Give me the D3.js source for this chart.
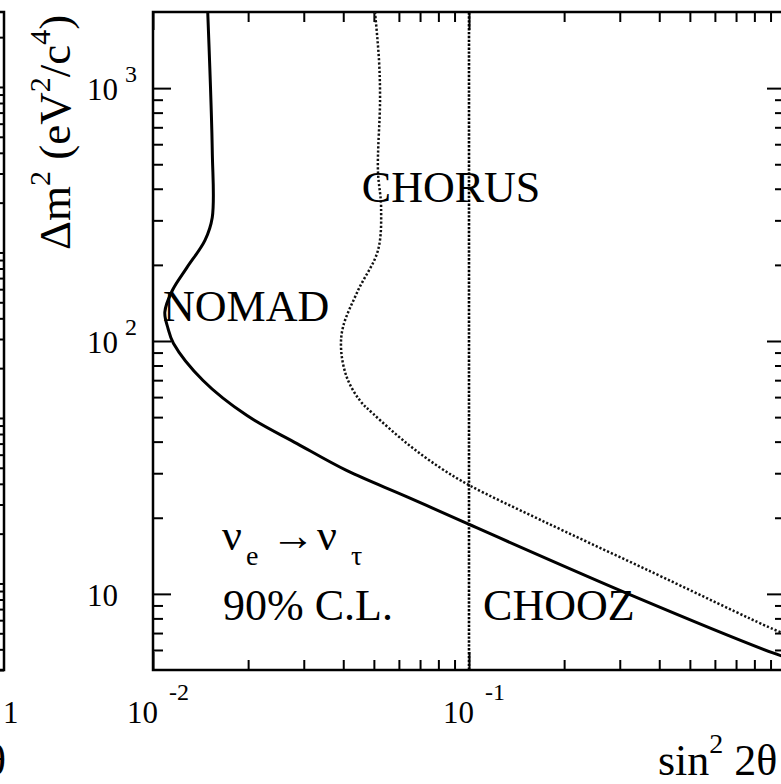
<!DOCTYPE html>
<html>
<head>
<meta charset="utf-8">
<script src="https://cdn.jsdelivr.net/npm/d3@7"></script>
<style>
  html, body { margin: 0; padding: 0; background: #fff; }
  svg { display: block; }
  text { font-family: "Liberation Serif", "Times New Roman", serif; fill: #000; }
</style>
</head>
<body>
<svg id="chart" width="781" height="784"></svg>
<script>
// Exclusion contours in the (sin^2 2θ, Δm^2) plane, ν_e → ν_τ, 90% C.L.
const nomadSin2 = [0.0149, 0.0154, 0.0154, 0.0146, 0.0128, 0.0115, 0.0109, 0.01116, 0.01160, 0.0144, 0.01984, 0.02856, 0.0411, 0.0637, 0.0993, 0.330, 0.916, 1.0];
const nomadDm2  = [2000,   568,    308,    250,    195,    158,    130,    112,     98,      69.8,   50.7,    39.3,    30.7,   24.2,   18.9,   9.82,  5.84,  5.63];

const chorusSin2 = [0.0504, 0.0519, 0.0523, 0.0515, 0.0527, 0.0515, 0.0445, 0.0399, 0.0394, 0.0411, 0.0452, 0.0497, 0.0637, 0.0809, 0.1007, 0.168, 0.366, 0.916, 1.0];
const chorusDm2  = [2000,   1291,   896,    473,    338,    228,    158,    113.1,  91.7,   71.6,   58.1,   51.6,   39.3,   31.6,   26.8,   19.64, 12.45, 7.26,  6.95];

const choozSin2 = 0.1;

const xDomain = [0.01, 1];
const yDomain = [5, 2000];
const xMajorTicks = [0.01, 0.1, 1];
const xTickExponents = ["-2", "-1", ""];
const yMajorTicks = [10, 100, 1000];
const yTickExponents = ["", "2", "3"];

// experiment names, anchored at (sin^2 2θ, Δm^2) of the text's left baseline
const labelNames = ["CHORUS", "NOMAD", "CHOOZ"];
const labelSin2  = [0.0458, 0.01076, 0.1108];
const labelDm2   = [353, 119.5, 7.89];

// ---- layout ----
const L = 153, R = 785, T = 12, B = 670;
const svg = d3.select("#chart");

const x = d3.scaleLog().domain(xDomain).range([L, R]);
const y = d3.scaleLog().domain(yDomain).range([B, T]);

function minorTicks(domain) {
  const out = [];
  const lo = Math.floor(Math.log10(domain[0])), hi = Math.ceil(Math.log10(domain[1]));
  for (let e = lo; e < hi; e++) {
    for (let m = 2; m <= 9; m++) {
      const v = m * Math.pow(10, e);
      if (v > domain[0] && v < domain[1]) out.push(v);
    }
  }
  return out;
}
const xMinor = minorTicks(xDomain);
const yMinor = minorTicks(yDomain);

function tickStyle(g) {
  g.select(".domain").remove();
  g.selectAll(".tick line").attr("stroke", "#000").attr("stroke-width", 2);
}

// minor and major ticks, all pointing into the frame
svg.append("g").attr("transform", `translate(0,${B})`)
  .call(d3.axisBottom(x).tickValues(xMinor).tickSize(-10).tickFormat("")).call(tickStyle);
svg.append("g").attr("transform", `translate(0,${B})`)
  .call(d3.axisBottom(x).tickValues(xMajorTicks).tickSize(-18).tickFormat("")).call(tickStyle);
svg.append("g").attr("transform", `translate(0,${T})`)
  .call(d3.axisTop(x).tickValues(xMinor).tickSize(-10).tickFormat("")).call(tickStyle);
svg.append("g").attr("transform", `translate(0,${T})`)
  .call(d3.axisTop(x).tickValues(xMajorTicks).tickSize(-18).tickFormat("")).call(tickStyle);
svg.append("g").attr("transform", `translate(${L},0)`)
  .call(d3.axisLeft(y).tickValues(yMinor).tickSize(-10).tickFormat("")).call(tickStyle);
svg.append("g").attr("transform", `translate(${L},0)`)
  .call(d3.axisLeft(y).tickValues(yMajorTicks).tickSize(-18).tickFormat("")).call(tickStyle);
svg.append("g").attr("transform", `translate(${R},0)`)
  .call(d3.axisRight(y).tickValues(yMinor).tickSize(-10).tickFormat("")).call(tickStyle);
svg.append("g").attr("transform", `translate(${R},0)`)
  .call(d3.axisRight(y).tickValues(yMajorTicks).tickSize(-18).tickFormat("")).call(tickStyle);

// frame
svg.append("rect").attr("x", L).attr("y", T).attr("width", R - L).attr("height", B - T)
  .attr("fill", "none").attr("stroke", "#000").attr("stroke-width", 2.5);

// tick labels
xMajorTicks.forEach((v, i) => {
  if (!xTickExponents[i]) return;
  const px = x(v);
  svg.append("text").attr("x", px - 26).attr("y", 723).attr("font-size", 31).text("10");
  svg.append("text").attr("x", px + 16).attr("y", 700).attr("font-size", 24).text(xTickExponents[i]);
});
yMajorTicks.forEach((v, i) => {
  const py = y(v);
  svg.append("text").attr("x", 118).attr("y", py + 12).attr("text-anchor", "end")
    .attr("font-size", 31).text("10");
  if (yTickExponents[i])
    svg.append("text").attr("x", 125).attr("y", py - 6).attr("font-size", 24).text(yTickExponents[i]);
});

// axis titles
const yt = svg.append("text").attr("transform", "translate(70,250) rotate(-90)")
  .attr("font-size", 45);
yt.append("tspan").text("Δm");
yt.append("tspan").attr("font-size", 30).attr("dy", -20).text("2");
yt.append("tspan").attr("dy", 20).text(" (eV");
yt.append("tspan").attr("font-size", 30).attr("dy", -20).text("2");
yt.append("tspan").attr("dy", 20).text("/c");
yt.append("tspan").attr("font-size", 30).attr("dy", -20).text("4");
yt.append("tspan").attr("dy", 20).text(")");

const xt = svg.append("text").attr("x", 658).attr("y", 775).attr("font-size", 44);
xt.append("tspan").text("sin");
xt.append("tspan").attr("font-size", 28).attr("dy", -22).text("2");
xt.append("tspan").attr("dy", 22).text(" 2θ");

// contours
const line = d3.line().x(d => x(d[0])).y(d => y(d[1])).curve(d3.curveCatmullRom.alpha(0.5));
svg.append("clipPath").attr("id", "plotclip")
  .append("rect").attr("x", L).attr("y", T).attr("width", R - L).attr("height", B - T);

svg.append("path").datum(d3.zip(nomadSin2, nomadDm2)).attr("d", line)
  .attr("clip-path", "url(#plotclip)")
  .attr("fill", "none").attr("stroke", "#000").attr("stroke-width", 3);

svg.append("path").datum(d3.zip(chorusSin2, chorusDm2)).attr("d", line)
  .attr("clip-path", "url(#plotclip)")
  .attr("fill", "none").attr("stroke", "#111").attr("stroke-width", 2.5)
  .attr("stroke-dasharray", "2.2 2");

svg.append("line")
  .attr("x1", x(choozSin2)).attr("x2", x(choozSin2))
  .attr("y1", y(yDomain[0])).attr("y2", y(yDomain[1]))
  .attr("stroke", "#000").attr("stroke-width", 2.6).attr("stroke-dasharray", "2.4 1.5");

// experiment names
labelNames.forEach((name, i) => {
  svg.append("text").attr("x", x(labelSin2[i])).attr("y", y(labelDm2[i]))
    .attr("font-size", 44).text(name);
});

// channel and confidence level
const ch = svg.append("text").attr("y", 550).attr("font-size", 44);
ch.append("tspan").attr("x", 222).text("ν");
ch.append("tspan").attr("x", 246).attr("dy", 15).attr("font-size", 28).text("e");
ch.append("tspan").attr("x", 271).attr("dy", -15).text("→");
ch.append("tspan").attr("x", 317).text("ν");
ch.append("tspan").attr("x", 351).attr("dy", 15).attr("font-size", 28).text("τ");
svg.append("text").attr("x", 223).attr("y", 620).attr("font-size", 44).text("90% C.L.");

// edge of the neighbouring panel on the left
const nb = d3.scaleLog().domain([0.3, 3000]).range([B, T - 4]);
const nbMinor = minorTicks([0.3, 3000]);
svg.append("g").attr("transform", "translate(4,0)")
  .call(d3.axisRight(nb).tickValues(nbMinor).tickSize(-4).tickFormat("")).call(tickStyle);
svg.append("g").attr("transform", "translate(4,0)")
  .call(d3.axisRight(nb).tickValues([1, 10, 100, 1000]).tickSize(-8).tickFormat("")).call(tickStyle);
svg.append("path").attr("d", `M0,${T}H4V${B}H0`).attr("fill", "none")
  .attr("stroke", "#000").attr("stroke-width", 2.5);
svg.append("text").attr("x", 3).attr("y", 723).attr("font-size", 31).text("1");
svg.append("text").attr("x", 6).attr("y", 775).attr("text-anchor", "end").attr("font-size", 44).text("2θ");
</script>
</body>
</html>
